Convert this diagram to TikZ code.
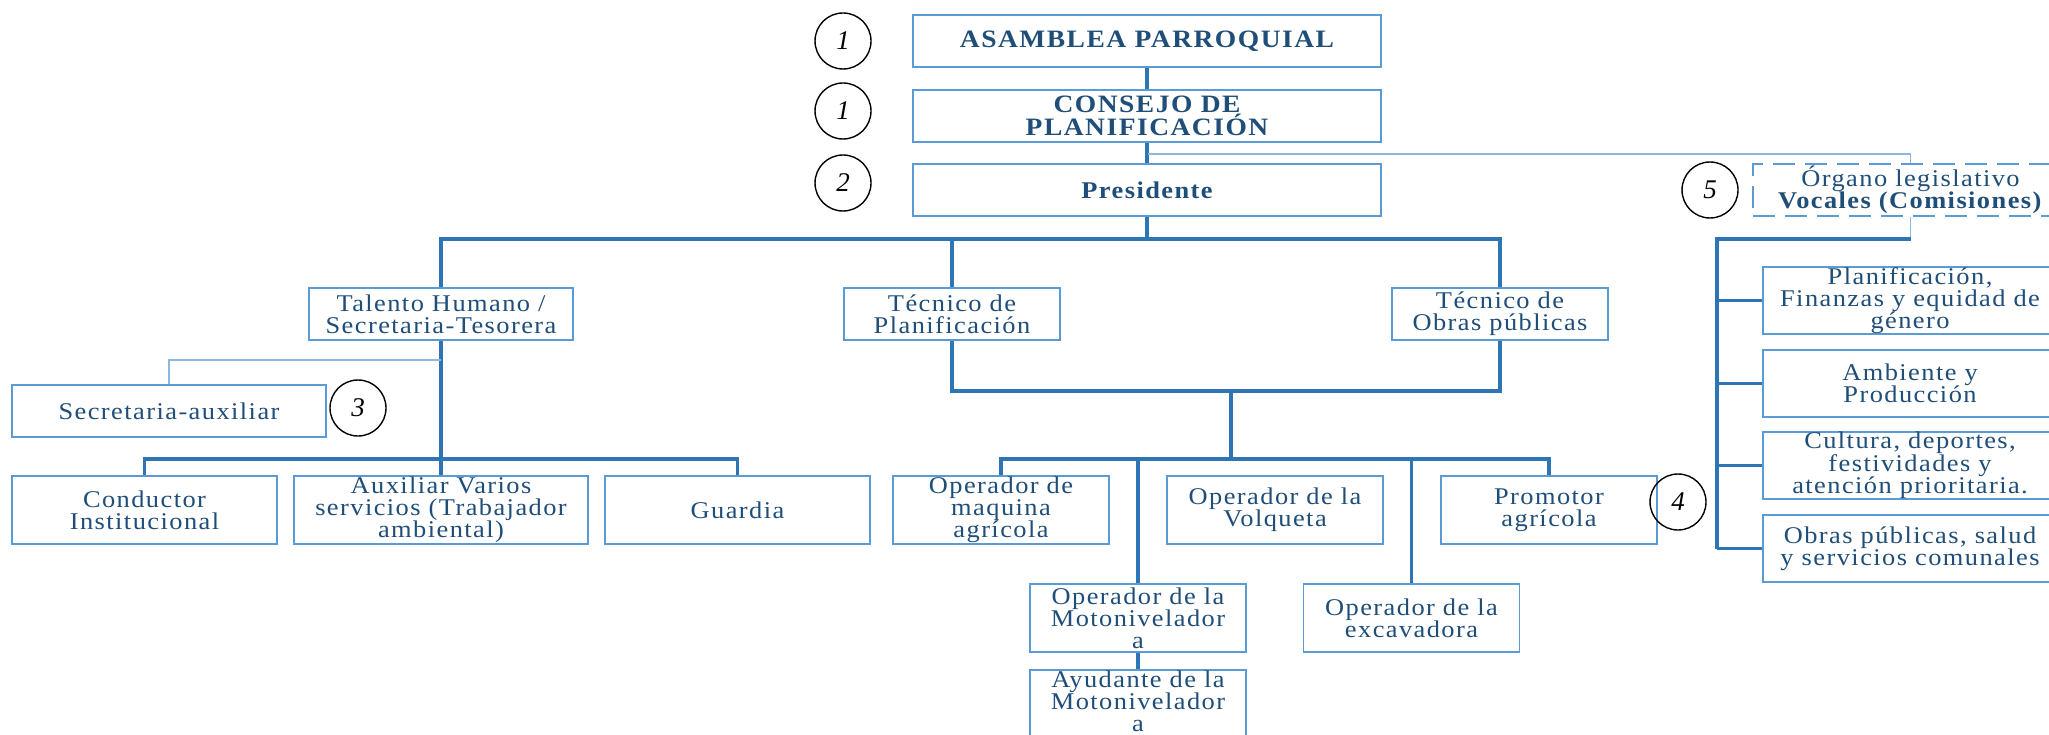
\documentclass[tikz,border=0pt]{standalone}
\usepackage{fontspec}
\setmainfont{Liberation Serif}[FakeStretch=1.1,LetterSpace=6]
\newfontfamily\circfont{Liberation Serif}
\definecolor{boxline}{HTML}{5B9BD5}
\definecolor{wire}{HTML}{2E75B6}
\definecolor{thinwire}{HTML}{8DB6E2}
\definecolor{ink}{HTML}{1F4E79}
\tikzset{
  unit/.style={draw=boxline, line width=1.6pt, fill=white, text=ink, align=center,
    inner sep=0pt, font=\fontsize{24}{22}\selectfont},
  headunit/.style={unit, font=\fontsize{25}{23}\bfseries\selectfont},
  inlabel/.style={text=ink, align=center, inner sep=0pt, font=\fontsize{24}{21.5}\selectfont},
  tag/.style={draw=black, line width=1.4pt, circle, minimum size=56pt, inner sep=0pt,
    font=\circfont\fontsize{27}{27}\itshape\selectfont},
  bus/.style={draw=wire, line width=3.5pt},
  trunk/.style={draw=wire, line width=4.5pt},
  link/.style={draw=thinwire, line width=1.4pt},
}
\begin{document}
\begin{tikzpicture}[x=1pt,y=-1pt]
\useasboundingbox (0,0) rectangle (2049,735);
\clip (0,0) rectangle (2049,735);

% levels of the hierarchy
\coordinate (hb1) at (0,239);
\coordinate (hb2) at (0,391);
\coordinate (hb3) at (0,459);

% top chain
\node[headunit, minimum width=468pt, minimum height=52pt] (asamblea) at (1147,41) {ASAMBLEA PARROQUIAL};
\node[headunit, minimum width=468pt, minimum height=52pt] (consejo) at (1147,116) {CONSEJO DE\\PLANIFICACIÓN};
\node[unit, font=\fontsize{24}{22}\bfseries\selectfont, minimum width=468pt, minimum height=52pt] (presidente) at (1147,190) {Presidente};
\node[tag] (n1a) at (843,41) {1};
\node[tag] (n1b) at (843,111) {1};
\node[tag] (n2) at (843,183) {2};

% legislative body
\node[unit, dashed, dash pattern=on 22pt off 10pt, minimum width=315pt, minimum height=52pt] (vocales) at (1910.5,190)
  {Órgano legislativo\\\textbf{Vocales (Comisiones)}};
\node[tag] (n5) at (1710,190) {5};

% second level
\node[unit, minimum width=264pt, minimum height=52pt] (talento) at (441,314) {Talento Humano /\\Secretaria-Tesorera};
\node[unit, minimum width=216pt, minimum height=52pt] (planif) at (952,314) {Técnico de\\Planificación};
\node[unit, minimum width=216pt, minimum height=52pt] (obras) at (1500,314) {Técnico de\\Obras públicas};

% administrative staff
\node[unit, minimum width=314pt, minimum height=52pt] (secaux) at (169,411) {Secretaria-auxiliar};
\node[tag] (n3) at (358,408) {3};
\node[unit, minimum width=265pt, minimum height=68pt] (conductor) at (144.5,510) {Conductor\\Institucional};
\node[unit, minimum width=294pt, minimum height=68pt] (auxiliar) at (441,510) {Auxiliar Varios\\servicios (Trabajador\\ambiental)};
\node[unit, minimum width=265pt, minimum height=68pt] (guardia) at (737.5,510) {Guardia};

% operators
\node[unit, minimum width=216pt, minimum height=68pt] (maquina) at (1001,510) {Operador de\\maquina\\agrícola};
\node[unit, minimum width=216pt, minimum height=68pt] (volqueta) at (1275,510) {Operador de la\\Volqueta};
\node[unit, minimum width=216pt, minimum height=68pt] (promotor) at (1549,510) {Promotor\\agrícola};
\node[tag] (n4) at (1678,502) {4};
\node[unit, minimum width=216pt, minimum height=68pt] (motoniv) at (1138,618) {Operador de la\\Motonivelador\\a};
% the helper box runs past the lower edge; its text sits a little higher
\node[unit, minimum width=216pt, minimum height=68pt,
  label={[inlabel, yshift=3pt]center:Ayudante de la\\Motonivelador\\a}] (ayudante) at (1138,704) {};
\node[unit, minimum width=216pt, minimum height=68pt] (excav) at (1411.5,618) {Operador de la\\excavadora};

% commissions
\node[unit, minimum width=294pt, minimum height=67pt] (com1) at (1910,300.5) {Planificación,\\Finanzas y equidad de\\género};
\node[unit, minimum width=294pt, minimum height=67pt] (com2) at (1910,383.5) {Ambiente y\\Producción};
\node[unit, minimum width=294pt, minimum height=67pt] (com3) at (1910,465.5) {Cultura, deportes,\\festividades y\\atención prioritaria.};
\node[unit, minimum width=294pt, minimum height=67pt] (com4) at (1910,548.5) {Obras públicas, salud\\y servicios comunales};

% connectors: top chain
\draw[bus] (asamblea.south) -- (consejo.north);
\draw[bus] (consejo.south) -- (presidente.north);
\coordinate (tap) at (1148,154);
\draw[link] (tap) -| (vocales.north);
\draw[bus] (presidente.south) -- (presidente.south |- hb1);

% connectors: second level
\draw[bus] (talento.north) -- (talento.north |- hb1) -- (obras.north |- hb1) -- (obras.north);
\draw[bus] (planif.north) -- (planif.north |- hb1);

% connectors: technicians to operators
\draw[bus] (planif.south) -- (planif.south |- hb2) -- (obras.south |- hb2) -- (obras.south);
\coordinate (join) at (1231,391);
\draw[bus] (join) -- (join |- hb3);
\draw[bus] (maquina.north) -- (maquina.north |- hb3) -- (promotor.north |- hb3) -- (promotor.north);
\draw[bus] (motoniv.north) -- (motoniv.north |- hb3);
\draw[bus] (excav.north) -- (excav.north |- hb3);
\draw[bus] (motoniv.south) -- (ayudante.north);

% connectors: administrative staff
\draw[bus] (talento.south) -- (auxiliar.north);
\draw[bus] (conductor.north) -- (conductor.north |- hb3) -- (guardia.north |- hb3) -- (guardia.north);
\coordinate (tap2) at (441,360);
\draw[link] (tap2) -| (secaux.north);

% connectors: commissions
\coordinate (spine) at (1717,239);
\draw[link] (vocales.south) -- (vocales.south |- hb1);
\draw[bus] (vocales.south |- hb1) -- ([xshift=-2pt]spine);
\draw[trunk] ([yshift=-2pt]spine) -- (spine |- com4.west);
\draw[bus] (spine |- com1.west) -- (com1.west);
\draw[bus] (spine |- com2.west) -- (com2.west);
\draw[bus] (spine |- com3.west) -- (com3.west);
\draw[bus] (spine |- com4.west) -- (com4.west);
\end{tikzpicture}
\end{document}
